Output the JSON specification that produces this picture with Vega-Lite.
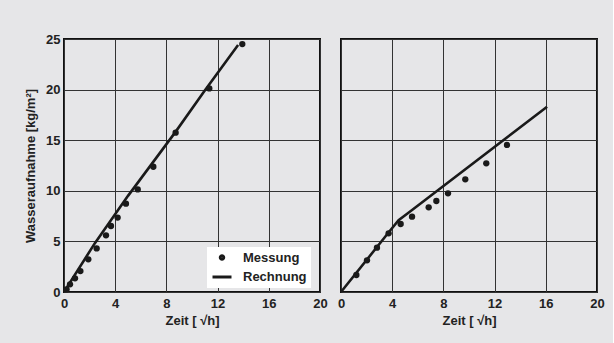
{
  "$schema": "https://vega.github.io/schema/vega-lite/v6.json",
  "padding": {"left": 23, "top": 32, "right": 7, "bottom": 15},
  "background": "#e6e6e8",
  "spacing": 21,
  "bounds": "flush",
  "datasets": {
    "messLinks": [
      {"x": 0.2, "y": 0.26}, {"x": 0.47, "y": 0.76}, {"x": 0.86, "y": 1.35},
      {"x": 1.28, "y": 2.07}, {"x": 1.9, "y": 3.23}, {"x": 2.55, "y": 4.31},
      {"x": 3.28, "y": 5.6}, {"x": 3.67, "y": 6.52}, {"x": 4.19, "y": 7.35},
      {"x": 4.84, "y": 8.73}, {"x": 5.76, "y": 10.14}, {"x": 6.98, "y": 12.38},
      {"x": 8.72, "y": 15.74}, {"x": 11.35, "y": 20.12}, {"x": 13.93, "y": 24.5}
    ],
    "rechLinks": [
      {"x": 0, "y": 0}, {"x": 2.4, "y": 4.8}, {"x": 5, "y": 9.5},
      {"x": 8.7, "y": 15.8}, {"x": 11, "y": 19.9}, {"x": 13.6, "y": 24.4}
    ],
    "messRechts": [
      {"x": 1.2, "y": 1.68}, {"x": 2.03, "y": 3.13}, {"x": 2.81, "y": 4.38},
      {"x": 3.72, "y": 5.8}, {"x": 4.66, "y": 6.72}, {"x": 5.55, "y": 7.44},
      {"x": 6.85, "y": 8.37}, {"x": 7.45, "y": 8.99}, {"x": 8.36, "y": 9.75},
      {"x": 9.71, "y": 11.13}, {"x": 11.35, "y": 12.71}, {"x": 12.97, "y": 14.53}
    ],
    "rechRechts": [
      {"x": 0, "y": 0}, {"x": 3.7, "y": 5.85}, {"x": 4.5, "y": 7.1},
      {"x": 5.4, "y": 7.95}, {"x": 16.1, "y": 18.3}
    ],
    "legende": [
      {"typ": "Messung"}, {"typ": "Rechnung"}
    ]
  },
  "config": {
    "font": "Liberation Sans",
    "view": {"stroke": "#111", "strokeWidth": 2, "fill": "#e6e6e8"},
    "axis": {
      "domain": false,
      "ticks": false,
      "grid": true,
      "gridColor": "#333",
      "gridWidth": 1,
      "gridOpacity": 1,
      "labelFlush": false,
      "labelOverlap": false,
      "labelFont": "Liberation Sans",
      "labelFontWeight": "bold",
      "labelFontSize": 13,
      "labelColor": "#222",
      "titleFont": "Liberation Sans",
      "titleFontWeight": "bold",
      "titleFontSize": 13,
      "titleColor": "#222"
    },
    "legend": {
      "fillColor": "white",
      "padding": 4,
      "rowPadding": -3,
      "labelFont": "Liberation Sans",
      "labelFontWeight": "bold",
      "labelFontSize": 13,
      "labelColor": "#222",
      "labelOffset": 10,
      "symbolFillColor": "#1a1a1a",
      "symbolStrokeColor": "#1a1a1a",
      "symbolStrokeWidth": 3,
      "symbolOpacity": 1
    }
  },
  "resolve": {"legend": {"shape": "independent", "size": "independent"}},
  "hconcat": [
    {
      "width": 256,
      "height": 253,
      "encoding": {
        "x": {"field": "x", "type": "quantitative", "scale": {"domain": [0, 20], "nice": false},
          "axis": {"values": [0, 4, 8, 12, 16, 20], "title": "Zeit [ √h]", "labelPadding": 5, "titlePadding": 4}},
        "y": {"field": "y", "type": "quantitative", "scale": {"domain": [0, 25], "nice": false},
          "axis": {"values": [0, 5, 10, 15, 20, 25], "title": "Wasseraufnahme [kg/m²]", "labelPadding": 4, "titlePadding": 8}}
      },
      "layer": [
        {
          "data": {"name": "rechLinks"},
          "mark": {"type": "line", "color": "#1a1a1a", "strokeWidth": 2.6}
        },
        {
          "data": {"name": "messLinks"},
          "mark": {"type": "point", "filled": true, "color": "#1a1a1a", "size": 40, "opacity": 1}
        },
        {
          "data": {"name": "legende"},
          "mark": {"type": "point", "opacity": 0},
          "encoding": {
            "x": {"datum": 0, "type": "quantitative"},
            "y": {"datum": 0, "type": "quantitative"},
            "shape": {
              "field": "typ",
              "type": "ordinal",
              "scale": {"type": "ordinal", "domain": ["Messung", "Rechnung"], "range": ["circle", "stroke"]},
              "legend": {"title": null, "orient": "none", "legendX": 143, "legendY": 208}
            },
            "size": {
              "field": "typ",
              "type": "ordinal",
              "scale": {"type": "ordinal", "domain": ["Messung", "Rechnung"], "range": [12, 361]},
              "legend": {"title": null, "orient": "none", "legendX": 143, "legendY": 208}
            }
          }
        }
      ]
    },
    {
      "width": 256,
      "height": 253,
      "encoding": {
        "x": {"field": "x", "type": "quantitative", "scale": {"domain": [0, 20], "nice": false},
          "axis": {"values": [0, 4, 8, 12, 16, 20], "title": "Zeit [ √h]", "labelPadding": 5, "titlePadding": 4}},
        "y": {"field": "y", "type": "quantitative", "scale": {"domain": [0, 25], "nice": false},
          "axis": {"values": [0, 5, 10, 15, 20, 25], "labels": false, "title": null}}
      },
      "layer": [
        {
          "data": {"name": "rechRechts"},
          "mark": {"type": "line", "color": "#1a1a1a", "strokeWidth": 2.6}
        },
        {
          "data": {"name": "messRechts"},
          "mark": {"type": "point", "filled": true, "color": "#1a1a1a", "size": 40, "opacity": 1}
        }
      ]
    }
  ]
}
